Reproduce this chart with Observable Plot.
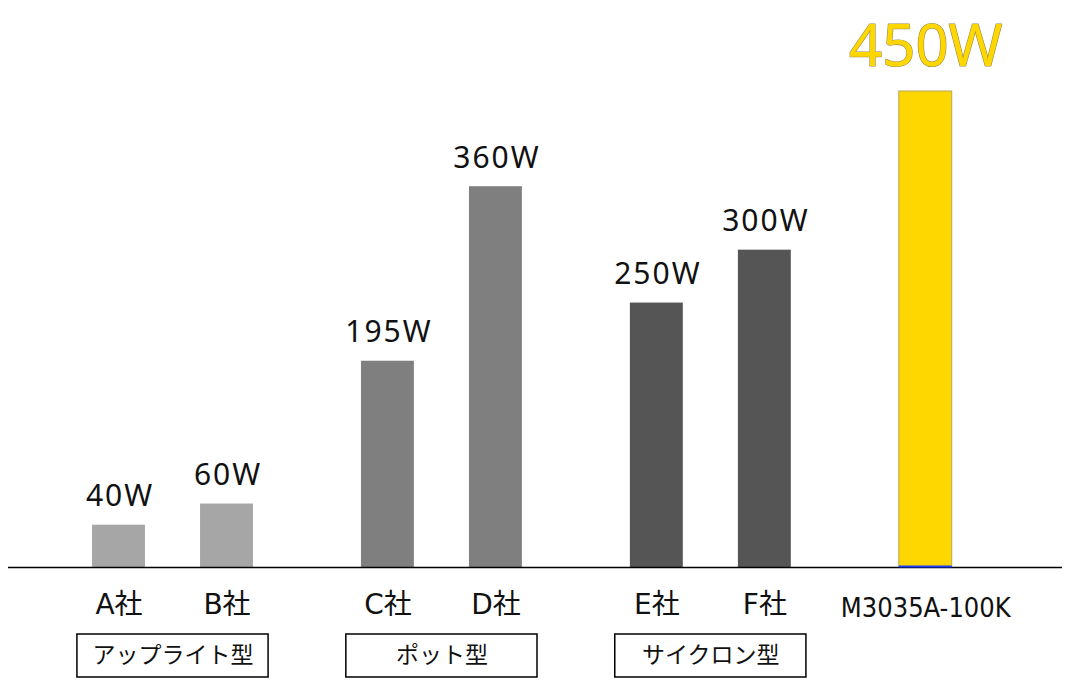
<!DOCTYPE html>
<html><head><meta charset="utf-8">
<script src="https://cdn.jsdelivr.net/npm/d3@7"></script>
<script src="https://cdn.jsdelivr.net/npm/@observablehq/plot@0.6"></script>
<style>body{margin:0;background:#fff}</style>
</head><body><div id="chart"></div>
<script>
const categories = ["A社","B社","C社","D社","E社","F社","M3035A-100K"];
const values = [40, 60, 195, 360, 250, 300, 450];
const valueLabels = ["40W","60W","195W","360W","250W","300W","450W"];
const groupOf = [0, 0, 1, 1, 2, 2, 3];
const groupNames = ["アップライト型","ポット型","サイクロン型"];
const barColors = ["#a6a6a6", "#7f7f7f", "#555555", "#ffd700"];

// layout (computed, not data)
const GAP = 1.49, HALF = 0.245, PAD = 0.385;
let slot = 0;
const rows = categories.map((c, i) => {
  if (i > 0) slot += groupOf[i] !== groupOf[i - 1] ? GAP : 1;
  return {cat: c, value: values[i], label: valueLabels[i], group: groupOf[i], slot, hi: groupOf[i] === 3};
});
const boxes = groupNames.map((name, g) => {
  const s = rows.filter(r => r.group === g).map(r => r.slot);
  return {name, x1: d3.min(s) - PAD, x2: d3.max(s) + PAD, cx: (d3.min(s) + d3.max(s)) / 2};
});
const k = 450 / 476; // data units per pixel
const normal = rows.filter(r => !r.hi), hi = rows.filter(r => r.hi);

const chart = Plot.plot({
  width: 1070, height: 700,
  marginLeft: 8, marginRight: 8, marginTop: 0, marginBottom: 0,
  x: {type: "linear", domain: [0, 1], range: [118.5, 226.5], axis: null},
  y: {domain: [0, 450], range: [567, 91], axis: null},
  color: {type: "identity"},
  style: {background: "#fff"},
  marks: [
    Plot.rect(normal, {x1: d => d.slot - HALF, x2: d => d.slot + HALF, y1: 0, y2: "value", fill: d => barColors[d.group]}),
    Plot.rect(hi, {x1: d => d.slot - HALF, x2: d => d.slot + HALF, y1: 0, y2: "value", fill: d => barColors[d.group], stroke: "#b8a45a", strokeWidth: 1}),
    Plot.ruleY([0], {stroke: "#000", strokeWidth: 1.5}),
    Plot.ruleY(hi, {y: 0, x1: d => d.slot - HALF, x2: d => d.slot + HALF, stroke: "#1a3cff", strokeWidth: 2, dy: -1}),
    Plot.text(normal, {x: "slot", y: "value", text: "label", lineAnchor: "bottom", dy: -19, dx: 1, fontSize: 30, fontFamily: "Noto Sans", fill: "#111"}),
    Plot.text(hi, {x: "slot", y: "value", text: "label", lineAnchor: "bottom", dy: -26, fontSize: 58, fontFamily: "Noto Sans", fill: "#ffd700", stroke: "#9a8c50", strokeWidth: 1.2}),
    Plot.text(normal, {x: "slot", y: 0, text: "cat", lineAnchor: "bottom", dy: 46, fontSize: 28, fontFamily: "DejaVu Sans, Noto Sans CJK JP", fill: "#111"}),
    Plot.text(hi, {x: "slot", y: 0, text: "cat", lineAnchor: "bottom", dy: 49, fontSize: 27, fontFamily: "DejaVu Sans Condensed, DejaVu Sans", fill: "#111"}),
    Plot.rect(boxes, {x1: "x1", x2: "x2", y1: -67 * k, y2: -110 * k, fill: "#fff", stroke: "#000", strokeWidth: 1.5}),
    Plot.text(boxes, {x: "cx", y: -88.5 * k, text: "name", fontSize: 23, fontFamily: "Noto Sans CJK JP", fill: "#111"})
  ]
});
const normalLabels = new Set(normal.map(d => d.label));
d3.select(chart).selectAll("text").filter(function() { return normalLabels.has(this.textContent); })
  .style("letter-spacing", "2px");
document.getElementById("chart").appendChild(chart);
</script>
</body></html>
